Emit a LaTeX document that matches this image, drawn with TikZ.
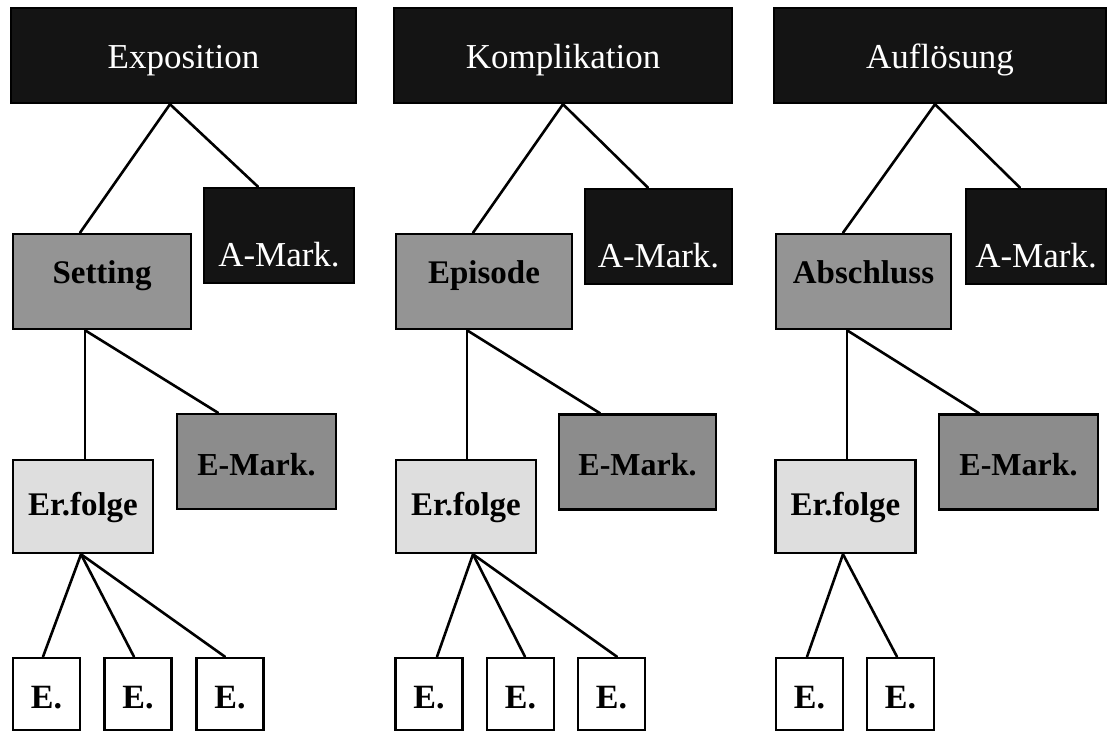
\documentclass[tikz,border=0pt]{standalone}
\usepackage{fontspec}
\setmainfont{Liberation Serif}
\begin{document}
\begin{tikzpicture}[x=1pt,y=-1pt,
  box/.style={draw=black, line width=2.5pt, inner sep=0pt, text depth=0pt},
  topbox/.style={box, fill=black!92, text=white, text height=27pt, font=\fontsize{35}{40}\selectfont},
  amark/.style={box, fill=black!92, text=white, text height=62pt, minimum width=#1, minimum height=95pt, font=\fontsize{35}{40}\selectfont},
  midbox/.style={box, fill=black!42, text height=3pt, minimum width=#1, minimum height=95pt, font=\bfseries\fontsize{33}{38}\selectfont},
  emark/.style={box, fill=black!45, text height=27pt, minimum width=#1, minimum height=95pt, font=\bfseries\fontsize{32}{38}\selectfont},
  lightbox/.style={box, fill=black!13, text height=17pt, minimum width=140pt, minimum height=93pt, font=\bfseries\fontsize{33}{38}\selectfont},
  leaf/.style={box, fill=white, text height=28pt, minimum width=67pt, minimum height=72pt, font=\bfseries\fontsize{34}{38}\selectfont},
  conn/.style={line width=2.6pt, line cap=round}]
\useasboundingbox (0,0) rectangle (1110,733);
% ---- column 1
\node[topbox, minimum width=345pt, minimum height=95pt] (expo) at (183.5,55.5) {Exposition};
\node[amark=150pt] (am1) at (279,235.5) {A-Mark.};
\node[midbox=178pt] (set) at (102,281.5) {Setting};
\node[emark=159pt] (em1) at (256.5,461.5) {E-Mark.};
\node[lightbox] (ef1) at (83,506.5) {Er.folge};
\node[leaf] (e11) at (46.5,694) {E.};
\node[leaf] (e12) at (138,694) {E.};
\node[leaf] (e13) at (230,694) {E.};
\draw[conn] ([xshift=-13.5pt]expo.south) -- ([xshift=-22pt]set.north);
\draw[conn] ([xshift=-13.5pt]expo.south) -- ([xshift=-21pt]am1.north);
\draw[conn] ([xshift=-17pt]set.south) -- ([xshift=2pt]ef1.north);
\draw[conn] ([xshift=-17pt]set.south) -- ([xshift=-38.5pt]em1.north);
\draw[conn] ([xshift=-2pt]ef1.south) -- ([xshift=-3.5pt]e11.north);
\draw[conn] ([xshift=-2pt]ef1.south) -- ([xshift=-4pt]e12.north);
\draw[conn] ([xshift=-2pt]ef1.south) -- ([xshift=-5pt]e13.north);
% ---- column 2
\node[topbox, minimum width=338pt, minimum height=95pt] (komp) at (563,55.5) {Komplikation};
\node[amark=147pt] (am2) at (658.5,236.5) {A-Mark.};
\node[midbox=176pt] (epi) at (484,281.5) {Episode};
\node[emark=157pt] (em2) at (637.5,462) {E-Mark.};
\node[lightbox] (ef2) at (466,506.5) {Er.folge};
\node[leaf] (e21) at (429,694) {E.};
\node[leaf] (e22) at (520.5,694) {E.};
\node[leaf] (e23) at (611.5,694) {E.};
\draw[conn] (komp.south) -- ([xshift=-11pt]epi.north);
\draw[conn] (komp.south) -- ([xshift=-10.5pt]am2.north);
\draw[conn] ([xshift=-17pt]epi.south) -- ([xshift=1pt]ef2.north);
\draw[conn] ([xshift=-17pt]epi.south) -- ([xshift=-37.5pt]em2.north);
\draw[conn] ([xshift=7pt]ef2.south) -- ([xshift=8pt]e21.north);
\draw[conn] ([xshift=7pt]ef2.south) -- ([xshift=4.5pt]e22.north);
\draw[conn] ([xshift=7pt]ef2.south) -- ([xshift=5.5pt]e23.north);
% ---- column 3
\node[topbox, minimum width=332pt, minimum height=95pt] (aufl) at (940,55.5) {Auflösung};
\node[amark=140pt] (am3) at (1036,236.5) {A-Mark.};
\node[midbox=175pt] (abs) at (863.5,281.5) {Abschluss};
\node[emark=159pt] (em3) at (1018.5,462) {E-Mark.};
\node[lightbox] (ef3) at (845.5,506.5) {Er.folge};
\node[leaf] (e31) at (809.5,694) {E.};
\node[leaf] (e32) at (900.5,694) {E.};
\draw[conn] ([xshift=-5pt]aufl.south) -- ([xshift=-20.5pt]abs.north);
\draw[conn] ([xshift=-5pt]aufl.south) -- ([xshift=-16pt]am3.north);
\draw[conn] ([xshift=-16.5pt]abs.south) -- ([xshift=1.5pt]ef3.north);
\draw[conn] ([xshift=-16.5pt]abs.south) -- ([xshift=-39.5pt]em3.north);
\draw[conn] ([xshift=-2.5pt]ef3.south) -- ([xshift=-2.5pt]e31.north);
\draw[conn] ([xshift=-2.5pt]ef3.south) -- ([xshift=-3.5pt]e32.north);
\end{tikzpicture}
\end{document}
